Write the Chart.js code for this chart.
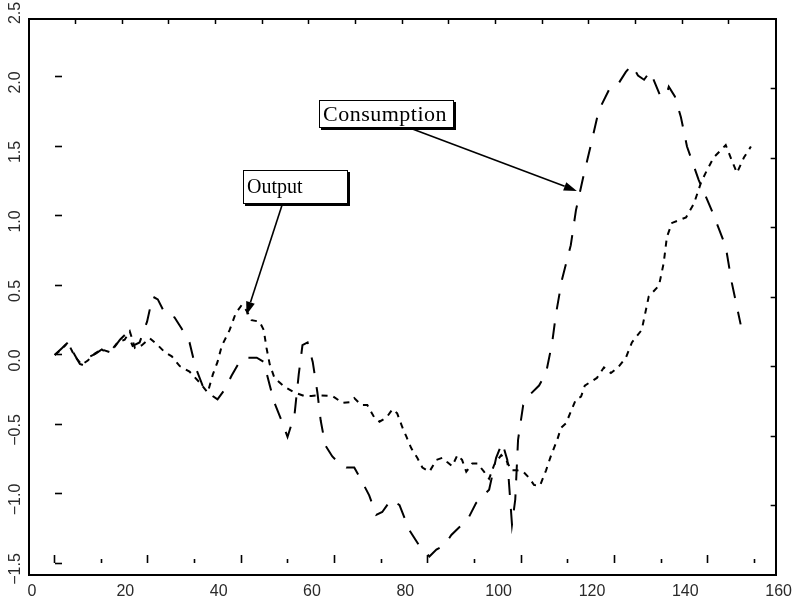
<!DOCTYPE html>
<html>
<head>
<meta charset="utf-8">
<script src="https://cdn.jsdelivr.net/npm/chart.js@4.4.1/dist/chart.umd.min.js"></script>
<style>html,body{margin:0;padding:0;background:#fff;}canvas{display:block;}</style>
</head>
<body>
<canvas id="c" width="796" height="605"></canvas>
<script>
// ---- tick labels / tick positions ----
const xTickLabels = [0, 20, 40, 60, 80, 100, 120, 140, 160];
const yTickValues = [-1.5, -1.0, -0.5, 0, 0.5, 1.0, 1.5, 2.0, 2.5];
const yTickLabels = ['\u22121.5', '\u22121.0', '\u22120.5', '0.0', '0.5', '1.0', '1.5', '2.0', '2.5'];
const topTickValues = [10, 20, 30, 40, 50, 60, 70, 80, 90, 100, 110, 120, 130, 140, 150];
const rightTickValues = [-1.0, -0.5, 0, 0.5, 1.0, 1.5, 2.0];
const innerShortX = [15.5, 35.5, 55.5, 75.5, 95.5, 115.5, 135.5, 155.5];
const innerTallX = [5.5, 25.5, 45.5, 65.5, 85.5, 105.5, 125.5, 145.5];
const innerYTicks = [-1.5, -1.0, -0.5, 0, 0.5, 1.0, 1.5, 2.0];

// ---- series (x, value) ----
const outputSeries = [
  [5.5,0.00],[7.3,0.05],[8.3,0.09],[9.8,-0.01],[11.3,-0.07],[12.6,-0.04],[14.1,0.01],[15.6,0.04],
  [17.3,0.02],[19.0,0.09],[20.5,0.11],[21.6,0.17],[22.7,0.05],[24.2,0.07],[25.9,0.12],[27.6,0.07],
  [29.1,0.02],[30.6,-0.01],[32.3,-0.08],[34.4,-0.12],[36.6,-0.20],[38.3,-0.27],[39.4,-0.14],[40.4,-0.05],
  [41.3,0.065],[43.0,0.18],[44.3,0.30],[45.6,0.36],[46.6,0.32],[47.7,0.25],[49.4,0.24],[50.3,0.18],
  [50.9,0.05],[51.6,-0.07],[52.6,-0.165],[54.8,-0.23],[56.9,-0.27],[59.0,-0.295],[60.5,-0.295],[62.2,-0.29],
  [65.0,-0.295],[67.2,-0.345],[68.7,-0.34],[69.7,-0.31],[71.2,-0.36],[72.5,-0.36],[74.0,-0.45],[75.1,-0.48],
  [76.6,-0.45],[77.9,-0.39],[78.9,-0.42],[80.0,-0.52],[80.9,-0.59],[81.9,-0.67],[83.2,-0.74],[84.3,-0.81],
  [85.8,-0.84],[87.3,-0.755],[88.6,-0.74],[89.6,-0.77],[90.7,-0.80],[91.8,-0.72],[92.8,-0.755],[93.7,-0.84],
  [95.0,-0.78],[96.1,-0.78],[97.5,-0.84],[98.6,-0.89],[99.7,-0.79],[101.2,-0.72],[102.5,-0.77],[103.3,-0.83],
  [104.6,-0.83],[105.9,-0.84],[107.2,-0.885],[108.2,-0.935],[109.5,-0.94],[110.8,-0.83],[111.9,-0.72],[113.2,-0.61],
  [114.0,-0.525],[115.1,-0.49],[116.2,-0.40],[117.2,-0.32],[118.3,-0.30],[119.1,-0.22],[121.7,-0.165],[123.2,-0.09],
  [124.7,-0.13],[126.2,-0.09],[127.9,-0.02],[129.2,0.09],[131.3,0.18],[132.8,0.42],[135.0,0.50],[136.0,0.66],
  [136.7,0.85],[137.8,0.95],[140.8,0.99],[142.5,1.09],[144.0,1.24],[145.0,1.31],[146.7,1.42],[149.3,1.51],
  [150.6,1.40],[151.7,1.31],[153.2,1.42],[154.7,1.50]
];
const consumptionSeries = [
  [5.5,0.00],[7.1,0.05],[8.3,0.09],[9.8,0.00],[10.9,-0.065],[12.2,-0.08],[13.1,-0.01],[14.3,0.01],
  [15.6,0.04],[16.9,0.01],[18.4,0.06],[19.5,0.11],[21.0,0.16],[22.2,0.065],[23.7,0.09],[25.3,0.24],
  [26.5,0.42],[27.6,0.40],[29.1,0.30],[31.2,0.27],[32.7,0.19],[34.4,0.09],[35.7,-0.09],[37.2,-0.22],
  [38.7,-0.28],[40.4,-0.32],[41.9,-0.25],[43.4,-0.15],[45.1,-0.05],[46.2,-0.02],[48.8,-0.02],[50.3,-0.05],
  [51.6,-0.22],[52.6,-0.345],[54.1,-0.47],[55.4,-0.59],[56.9,-0.43],[57.8,-0.14],[58.6,0.07],[59.7,0.09],
  [60.8,-0.05],[61.8,-0.27],[62.5,-0.47],[63.5,-0.65],[65.0,-0.73],[66.5,-0.78],[68.0,-0.81],[69.7,-0.81],
  [71.2,-0.90],[72.9,-1.01],[74.4,-1.15],[75.7,-1.13],[77.6,-1.04],[79.4,-1.08],[81.5,-1.26],[83.6,-1.37],
  [85.8,-1.45],[87.3,-1.40],[89.0,-1.37],[90.5,-1.295],[92.2,-1.24],[93.9,-1.19],[95.8,-1.065],[98.6,-0.97],
  [100.1,-0.74],[101.4,-0.63],[102.5,-0.755],[103.5,-1.22],[104.2,-1.04],[104.8,-0.61],[105.9,-0.36],[107.2,-0.29],
  [109.3,-0.22],[110.8,-0.13],[112.1,0.086],[112.9,0.29],[114.2,0.54],[116.1,0.79],[117.2,1.04],[118.7,1.27],
  [120.4,1.51],[122.1,1.76],[124.7,1.935],[126.4,1.957],[127.9,2.036],[129.2,2.086],[130.5,2.01],[131.8,1.98],
  [133.1,2.04],[134.1,1.96],[135.2,1.87],[136.5,1.86],[137.1,1.93],[138.4,1.86],[139.7,1.71],[141.0,1.50],
  [143.5,1.26],[146.3,1.04],[149.3,0.78],[150.6,0.52],[152.5,0.22]
];

// ---- annotation boxes (box corners on x / y, arrow tip on x / yd) ----
const notes = [
  { text: 'Output',      size: 20, spacing: 0,   box: [45.8, 1.414, 68.4, 1.169], from: [54.3, 1.169], tip: [46.6, 0.29] },
  { text: 'Consumption', size: 22, spacing: 0.5, box: [62.2, 1.917, 91.1, 1.716], from: [81.6, 1.716], tip: [117.4, 1.18] }
];

const notePlugin = {
  id: 'notes',
  afterDatasetsDraw(chart) {
    const { ctx, scales } = chart;
    const sx = scales.x, sy = scales.y, sd = scales.yd;
    ctx.save();
    notes.forEach(n => {
      const x1 = Math.round(sx.getPixelForValue(n.box[0]));
      const y1 = Math.round(sy.getPixelForValue(n.box[1]));
      const x2 = Math.round(sx.getPixelForValue(n.box[2]));
      const y2 = Math.round(sy.getPixelForValue(n.box[3]));
      const fx = sx.getPixelForValue(n.from[0]), fy = sy.getPixelForValue(n.from[1]);
      const tx = sx.getPixelForValue(n.tip[0]), ty = sd.getPixelForValue(n.tip[1]);
      // arrow
      const ang = Math.atan2(ty - fy, tx - fx);
      const hl = 13, hw = 4.5;
      const bx = tx - hl * Math.cos(ang), by = ty - hl * Math.sin(ang);
      ctx.strokeStyle = '#000'; ctx.lineWidth = 1.6;
      ctx.beginPath(); ctx.moveTo(fx, fy); ctx.lineTo(bx, by); ctx.stroke();
      ctx.fillStyle = '#000';
      ctx.beginPath();
      ctx.moveTo(tx, ty);
      ctx.lineTo(bx + hw * Math.sin(ang), by - hw * Math.cos(ang));
      ctx.lineTo(bx - hw * Math.sin(ang), by + hw * Math.cos(ang));
      ctx.closePath(); ctx.fill();
      // box with shadow
      ctx.fillStyle = '#000';
      ctx.fillRect(x1 + 2, y1 + 2, x2 - x1, y2 - y1);
      ctx.fillStyle = '#fff';
      ctx.fillRect(x1, y1, x2 - x1, y2 - y1);
      ctx.strokeStyle = '#000'; ctx.lineWidth = 1;
      ctx.strokeRect(x1 + 0.5, y1 + 0.5, x2 - x1 - 1, y2 - y1 - 1);
      ctx.fillStyle = '#000';
      ctx.font = n.size + 'px "Liberation Serif", "Times New Roman", serif';
      if ('letterSpacing' in ctx) ctx.letterSpacing = n.spacing + 'px';
      ctx.textBaseline = 'middle'; ctx.textAlign = 'left';
      ctx.fillText(n.text, x1 + 4, (y1 + y2) / 2 + 1);
      if ('letterSpacing' in ctx) ctx.letterSpacing = '0px';
    });
    ctx.restore();
  }
};

const tickFont = { family: '"Liberation Sans", Arial, sans-serif', size: 16 };
const tickColor = '#2a2a2a';

new Chart(document.getElementById('c'), {
  type: 'line',
  data: {
    datasets: [
      {
        label: 'Output',
        data: outputSeries.map(p => ({ x: p[0], y: p[1] })),
        xAxisID: 'x', yAxisID: 'yd',
        borderColor: '#000', borderWidth: 2, borderDash: [6, 6],
        pointRadius: 0, fill: false, tension: 0
      },
      {
        label: 'Consumption',
        data: consumptionSeries.map(p => ({ x: p[0], y: p[1] })),
        xAxisID: 'x', yAxisID: 'yd',
        borderColor: '#000', borderWidth: 2, borderDash: [16, 14],
        pointRadius: 0, fill: false, tension: 0
      }
    ]
  },
  options: {
    responsive: false,
    animation: false,
    devicePixelRatio: 1,
    layout: { padding: 0 },
    plugins: { legend: { display: false }, tooltip: { enabled: false } },
    scales: {
      x: {
        type: 'linear', position: 'bottom', min: 0, max: 160,
        afterBuildTicks: s => { s.ticks = xTickLabels.map(v => ({ value: v })); },
        afterFit: s => { s.height = 30; },
        grid: { drawOnChartArea: false, drawTicks: false },
        border: { display: true, color: '#000', width: 2 },
        ticks: { autoSkip: false, maxRotation: 0, padding: 7, labelOffset: 3, color: tickColor, font: tickFont,
                 callback: (v, i) => String(xTickLabels[i]) }
      },
      xtop: {
        type: 'linear', axis: 'x', position: 'top', min: 0, max: 160,
        afterBuildTicks: s => { s.ticks = topTickValues.map(v => ({ value: v })); },
        afterFit: s => { s.height = 19; },
        grid: { drawOnChartArea: false, drawTicks: true, tickLength: -5, tickColor: '#000', tickWidth: 1.5 },
        border: { display: true, color: '#000', width: 2 },
        ticks: { display: false }
      },
      y: {
        type: 'linear', position: 'left', min: -1.5, max: 2.5,
        afterBuildTicks: s => { s.ticks = yTickValues.map(v => ({ value: v })); },
        afterFit: s => { s.width = 29; },
        grid: { drawOnChartArea: false, drawTicks: false },
        border: { display: true, color: '#000', width: 2 },
        ticks: { autoSkip: false, minRotation: 90, maxRotation: 90, crossAlign: 'center', padding: -2,
                 labelOffset: -6, color: tickColor, font: tickFont,
                 callback: (v, i) => yTickLabels[i] }
      },
      yd: {
        type: 'linear', axis: 'y', position: 'left', display: false, min: -1.583, max: 2.417
      },
      yright: {
        type: 'linear', axis: 'y', position: 'right', min: -1.5, max: 2.5,
        afterBuildTicks: s => { s.ticks = rightTickValues.map(v => ({ value: v })); },
        afterFit: s => { s.width = 19; },
        grid: { drawOnChartArea: false, drawTicks: true, tickLength: -5, tickColor: '#000', tickWidth: 1.5 },
        border: { display: true, color: '#000', width: 2 },
        ticks: { display: false }
      },
      xin1: {
        type: 'linear', axis: 'x', position: { yd: -1.5 }, min: 0, max: 160,
        afterBuildTicks: s => { s.ticks = innerShortX.map(v => ({ value: v })); },
        grid: { drawOnChartArea: false, drawTicks: true, tickLength: -4, tickColor: '#000', tickWidth: 1.6 },
        border: { display: false },
        ticks: { display: false }
      },
      xin2: {
        type: 'linear', axis: 'x', position: { yd: -1.5 }, min: 0, max: 160,
        afterBuildTicks: s => { s.ticks = innerTallX.map(v => ({ value: v })); },
        grid: { drawOnChartArea: false, drawTicks: true, tickLength: -8, tickColor: '#000', tickWidth: 1.6 },
        border: { display: false },
        ticks: { display: false }
      },
      yin: {
        type: 'linear', axis: 'y', position: { x: 5.5 }, min: -1.583, max: 2.417,
        afterBuildTicks: s => { s.ticks = innerYTicks.map(v => ({ value: v })); },
        grid: { drawOnChartArea: false, drawTicks: true, tickLength: -7, tickColor: '#000', tickWidth: 1.6 },
        border: { display: false },
        ticks: { display: false }
      }
    }
  },
  plugins: [notePlugin]
});
</script>
</body>
</html>
